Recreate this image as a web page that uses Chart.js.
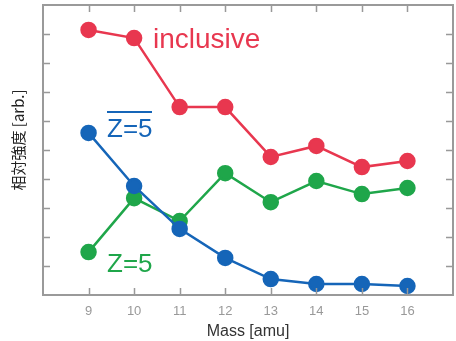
<!DOCTYPE html>
<html lang="ja">
<head>
<meta charset="UTF-8">
<title>Mass chart</title>
<script src="https://cdn.jsdelivr.net/npm/chart.js@4"></script>
<style>
  body { margin: 0; background: #fff; }
  #wrap { width: 456px; height: 341px; }
</style>
</head>
<body>
<div id="wrap"><canvas id="chart" width="456" height="341"></canvas></div>
<script>
// masses (amu)
const masses = [9, 10, 11, 12, 13, 14, 15, 16];
const inclusive = [9.14, 8.86, 6.48, 6.48, 4.76, 5.14, 4.41, 4.62];
const zbar5 = [5.59, 3.76, 2.28, 1.28, 0.55, 0.38, 0.38, 0.31];
const z5 = [1.48, 3.34, 2.55, 4.2, 3.2, 3.93, 3.48, 3.69];
const yTicks = [1, 2, 3, 4, 5, 6, 7, 8, 9];

const RED = '#e8374f', BLUE = '#1565b8', GREEN = '#1fa64a';

function series(vals, color) {
  return {
    data: masses.map((m, i) => ({ x: m, y: vals[i] })),
    borderColor: color,
    backgroundColor: color,
    borderWidth: 2.5,
    pointRadius: 7,
    pointHoverRadius: 7,
    tension: 0
  };
}

// frame, inner ticks, labels and y title
const framePlugin = {
  id: 'frame',
  afterDraw(chart) {
    const c = chart.ctx, a = chart.chartArea;
    const xs = chart.scales.x, ys = chart.scales.y;
    c.save();
    c.strokeStyle = '#999';
    c.lineWidth = 1.5;
    masses.forEach(m => {
      const px = Math.round(xs.getPixelForValue(m)) + 0.5;
      c.beginPath();
      c.moveTo(px, a.top); c.lineTo(px, a.top + 7);
      c.moveTo(px, a.bottom); c.lineTo(px, a.bottom - 7);
      c.stroke();
    });
    yTicks.forEach(v => {
      const py = Math.round(ys.getPixelForValue(v)) + 0.5;
      c.beginPath();
      c.moveTo(a.left, py); c.lineTo(a.left + 7, py);
      c.moveTo(a.right, py); c.lineTo(a.right - 7, py);
      c.stroke();
    });
    c.lineWidth = 2;
    c.strokeStyle = '#9a9a9a';
    c.strokeRect(a.left, a.top, a.right - a.left, a.bottom - a.top);

    // series labels
    c.textBaseline = 'alphabetic';
    c.textAlign = 'left';
    c.font = '28px "Liberation Sans", Arial, sans-serif';
    c.fillStyle = RED;
    c.fillText('inclusive', 153, 48);
    c.font = '26px "Liberation Sans", Arial, sans-serif';
    c.fillStyle = BLUE;
    c.fillText('Z=5', 107, 137);
    c.fillRect(107, 111, 45, 2);
    c.fillStyle = GREEN;
    c.fillText('Z=5', 107, 272);

    // y title
    c.translate(18, 140);
    c.rotate(-Math.PI / 2);
    c.textAlign = 'center';
    c.textBaseline = 'middle';
    c.fillStyle = '#222';
    c.font = '15px "Noto Sans CJK JP", sans-serif';
    c.fillText('相対強度 [arb.]', 0, 0);
    c.restore();
  }
};

new Chart(document.getElementById('chart'), {
  type: 'line',
  data: {
    datasets: [
      series(inclusive, RED),
      series(zbar5, BLUE),
      series(z5, GREEN)
    ]
  },
  options: {
    responsive: false,
    animation: false,
    layout: { autoPadding: false, padding: { top: 5, right: 3, left: 0, bottom: 0 } },
    plugins: { legend: { display: false }, tooltip: { enabled: false } },
    scales: {
      x: {
        type: 'linear',
        min: 8, max: 17,
        grid: { display: false, drawTicks: false },
        border: { display: false },
        ticks: {
          stepSize: 1,
          padding: 9,
          color: '#999',
          font: { size: 13, family: 'Liberation Sans' },
          callback: v => (v >= 9 && v <= 16 ? v : '')
        },
        title: {
          display: true,
          text: 'Mass [amu]',
          color: '#333',
          font: { size: 16, family: 'Liberation Sans' },
          padding: { top: 0, bottom: 0 }
        },
        afterFit: s => { s.height = 46; s.paddingLeft = 0; s.paddingRight = 0; }
      },
      y: {
        min: 0, max: 10,
        grid: { display: false, drawTicks: false },
        border: { display: false },
        ticks: { display: false, stepSize: 1 },
        afterFit: s => { s.width = 43; s.paddingTop = 0; s.paddingBottom = 0; }
      }
    }
  },
  plugins: [framePlugin]
});
</script>
</body>
</html>
